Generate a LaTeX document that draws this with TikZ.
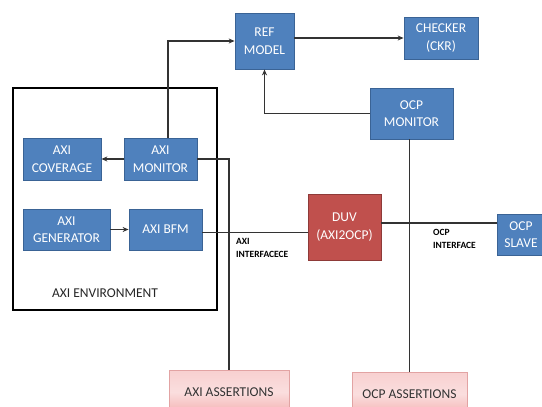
\documentclass[tikz,border=0pt]{standalone}
\usepackage{fontspec}
\setmainfont{Carlito}
\usepackage{tikz}
\usetikzlibrary{arrows.meta, calc}

\definecolor{boxblue}{HTML}{4F81BD}
\definecolor{edgeblue}{HTML}{3A6395}
\definecolor{duvred}{HTML}{C0504D}
\definecolor{edgered}{HTML}{8E3A38}
\definecolor{pinktop}{HTML}{F8D0D0}
\definecolor{pinkbot}{HTML}{F4B2B2}
\definecolor{edgepink}{HTML}{E2A3A3}

\begin{document}
\begin{tikzpicture}[x = 1pt, y = -1pt,
blkbox/.style = {draw = edgeblue, fill = boxblue, text = white, line width = 0.8pt,
  align = center, inner sep = 0pt, font = \fontsize{13.5}{17.5}\selectfont},
duvbox/.style = {blkbox, draw = edgered, fill = duvred},
asrtbox/.style = {draw = edgepink, top color = pinktop, bottom color = pinkbot,
  middle color = pinktop!70!white, text = black!80, align = center, inner sep = 0pt,
  line width = 0.8pt, font = \fontsize{13.5}{17.5}\selectfont},
wire/.style = {line width = 1.1pt, color = black!80},
arr/.style = {wire, -{Stealth[length = 6pt, width = 5pt]}},
iflabel/.style = {align = left, inner sep = 0pt, anchor = north west,
  font = \fontsize{9.5}{13.5}\selectfont\bfseries}]

\useasboundingbox (0, 0) rectangle (542, 407);
\clip (0, 0) rectangle (542, 407);

% environment box
\node[draw, line width = 1.2pt, minimum width = 204pt, minimum height = 222pt,
  inner sep = 0pt] (env) at (115, 199) {};
\node[font = \fontsize{13.5}{15}\selectfont, text = black!85] (envlbl) at (105, 293) {AXI ENVIRONMENT};

% blocks
\node[blkbox, minimum width = 59pt, minimum height = 56pt] (ref) at (264.5, 41) {REF\\MODEL};
\node[blkbox, minimum width = 74pt, minimum height = 42pt] (chk) at (441, 38) {CHECKER\\(CKR)};
\node[blkbox, minimum width = 83pt, minimum height = 51pt] (ocpmon) at (411.5, 113.5) {OCP\\MONITOR};
\node[blkbox, minimum width = 78pt, minimum height = 42pt] (cov) at (62, 159) {AXI\\COVERAGE};
\node[blkbox, minimum width = 73pt, minimum height = 42pt] (mon) at (160.5, 159) {AXI\\MONITOR};
\node[blkbox, minimum width = 87pt, minimum height = 41pt] (gen) at (66.5, 229.5) {AXI\\GENERATOR};
\node[blkbox, minimum width = 73pt, minimum height = 41pt] (bfm) at (165.5, 229.5) {AXI BFM};
\node[duvbox, minimum width = 73pt, minimum height = 66pt] (duv) at (344.5, 227) {DUV\\(AXI2OCP)};
\node[blkbox, minimum width = 48pt, minimum height = 41pt] (slave) at (521, 234.5) {OCP\\SLAVE};
\node[asrtbox, minimum width = 120pt, minimum height = 44pt] (axiasrt) at (229, 392) {AXI ASSERTIONS};
\node[asrtbox, minimum width = 115pt, minimum height = 44pt] (ocpasrt) at (409.5, 394) {OCP ASSERTIONS};

% interface labels
\node[iflabel] (axiif) at (236, 238) {AXI\\INTERFACECE};
\node[iflabel] (ocpif) at (433, 229) {OCP\\INTERFACE};

% connections
\draw[arr] ([xshift = 7.5pt]mon.north) |- (ref.west);
\draw[arr] (ref.east |- chk.west) -- (chk.west);
\draw[arr] (ocpmon.west) -| (ref.south);
\draw[arr] (mon.west) -- (cov.east);
\draw[wire] (mon.east) -| (axiasrt.north);
\draw[arr] (gen.east) -- (bfm.west);
\draw[wire] ([yshift = -3pt]bfm.east) -- ([yshift = -3pt]bfm.east -| duv.west);
\draw[wire] ([yshift = 4pt]duv.east) -- ([yshift = 4pt]duv.east -| slave.west);
\draw[wire] (ocpmon.south -| ocpasrt.north) -- (ocpasrt.north);
\end{tikzpicture}
\end{document}
